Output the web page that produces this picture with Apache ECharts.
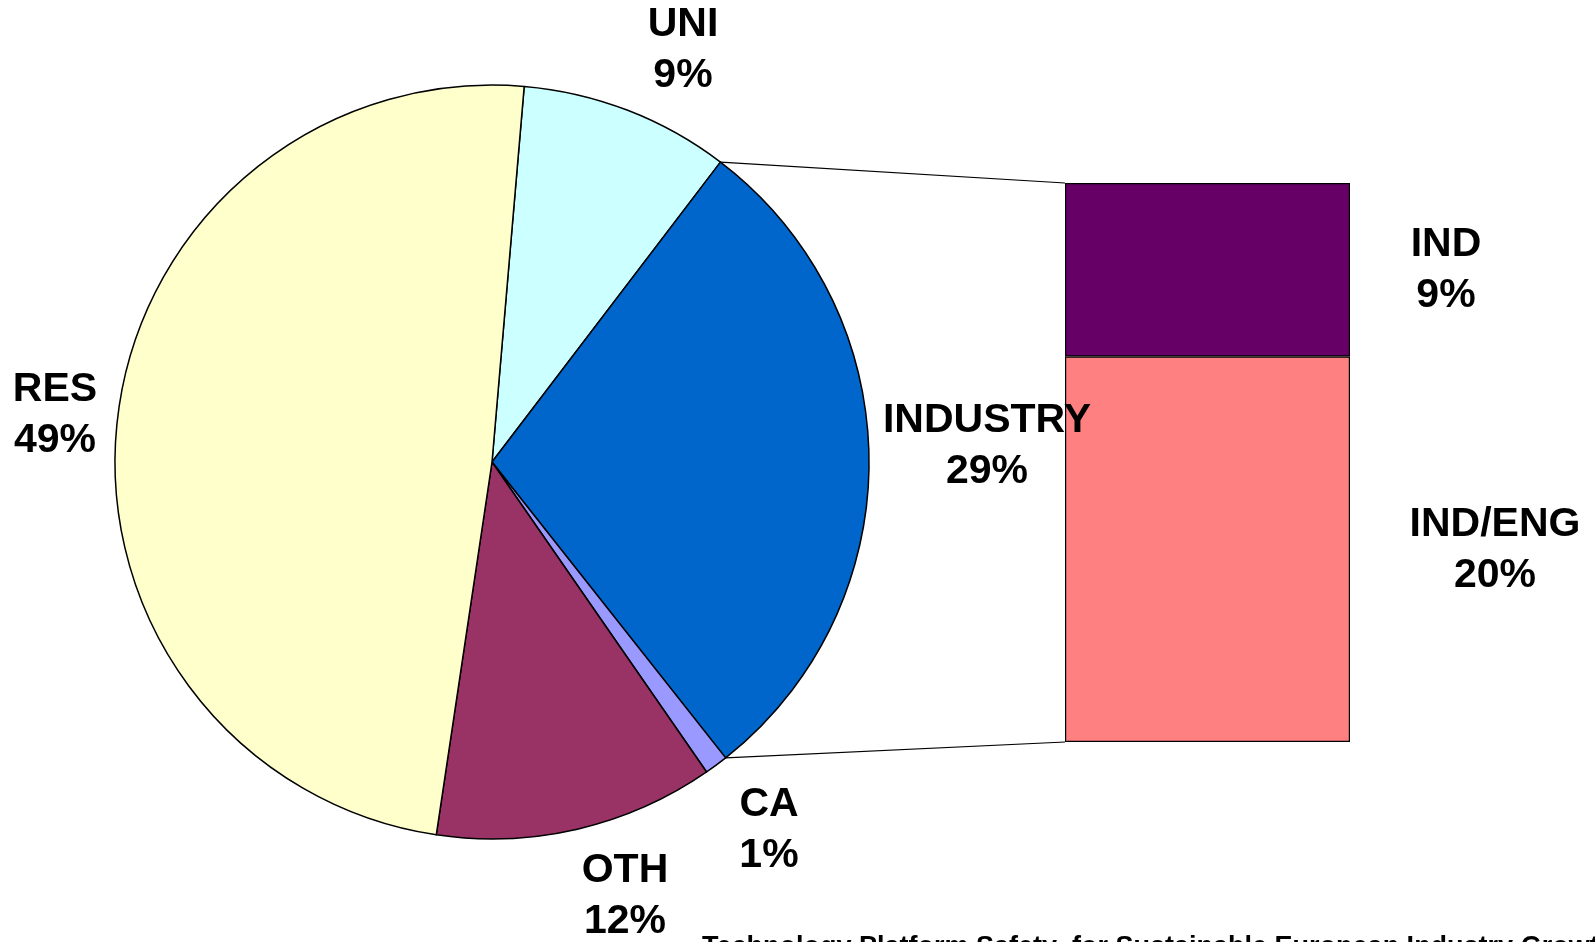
<!DOCTYPE html>
<html>
<head>
<meta charset="utf-8">
<style>
  html, body { margin: 0; padding: 0; background: #ffffff; }
  #chart { width: 1595px; height: 942px; }
</style>
<script src="https://cdn.jsdelivr.net/npm/echarts@6/dist/echarts.min.js"></script>
</head>
<body>
<div id="chart"></div>
<script>
// ---- data ----
var pieNames = ['UNI', 'INDUSTRY', 'CA', 'OTH', 'RES'];
var pieValues = [9, 29, 1, 12, 49];
var barNames = ['IND/ENG', 'IND'];
var barValues = [20, 9];
var barCategory = ['INDUSTRY'];
var footerText = 'Technology Platform Safety  for Sustainable European Industry Growth';

// ---- styles / layout ----
var pieColors = { 'UNI': '#CCFFFF', 'INDUSTRY': '#0066CC', 'CA': '#9999FF', 'OTH': '#993366', 'RES': '#FFFFCC' };
var barColors = { 'IND/ENG': '#FF8080', 'IND': '#660066' };
var FONT = '"Liberation Sans", Arial, sans-serif';
var FS = 41, LH = 51;
var pieCenter = [492, 462], pieRadius = 377, startAngle = 85.1;
var labelPos = {
  'UNI': [683, 50], 'INDUSTRY': [987, 446], 'CA': [769, 830], 'OTH': [625, 896], 'RES': [55, 415],
  'IND': [1446, 270], 'IND/ENG': [1495, 550]
};
var gridBox = { left: 1065, top: 183, width: 285, height: 559 };

var chart = echarts.init(document.getElementById('chart'), null, { renderer: 'canvas' });

function layoutFor(name) {
  var p = labelPos[name];
  return { x: p[0], y: p[1], align: 'center', verticalAlign: 'middle', hideOverlap: false, moveOverlap: false };
}

var labelStyle = {
  fontFamily: FONT, fontWeight: 'bold', fontSize: FS, lineHeight: LH, color: '#000', align: 'center'
};

var series = [{
  type: 'pie',
  center: pieCenter,
  radius: pieRadius,
  startAngle: startAngle,
  clockwise: true,
  animation: false,
  avoidLabelOverlap: false,
  data: pieNames.map(function (n, i) {
    return { name: n, value: pieValues[i], itemStyle: { color: pieColors[n] } };
  }),
  itemStyle: { borderColor: '#000', borderWidth: 1.5 },
  label: Object.assign({ show: true, position: 'outside', formatter: '{b}\n{d}%' }, labelStyle),
  labelLine: { show: false },
  labelLayout: function (params) { return layoutFor(pieNames[params.dataIndex]); },
  emphasis: { disabled: true }
}];

barNames.forEach(function (n, i) {
  series.push({
    type: 'bar',
    name: n,
    stack: 'ind',
    data: [barValues[i]],
    barWidth: '100%',
    animation: false,
    itemStyle: { color: barColors[n], borderColor: '#000', borderWidth: 1.2 },
    label: Object.assign({ show: true, position: 'inside', formatter: '{a}\n{c}%' }, labelStyle),
    labelLayout: function () { return layoutFor(n); },
    emphasis: { disabled: true }
  });
});

// connector endpoints derived from the pie slice of INDUSTRY and the bar box
function piePoint(cumValue) {
  var total = pieValues.reduce(function (a, b) { return a + b; }, 0);
  var ang = (startAngle - cumValue / total * 360) * Math.PI / 180;
  return [pieCenter[0] + pieRadius * Math.cos(ang), pieCenter[1] - pieRadius * Math.sin(ang)];
}
var idx = pieNames.indexOf('INDUSTRY');
var cumStart = 0;
for (var k = 0; k < idx; k++) cumStart += pieValues[k];
var cumEnd = cumStart + pieValues[idx];
var pA = piePoint(cumStart), pB = piePoint(cumEnd);

chart.setOption({
  backgroundColor: '#ffffff',
  animation: false,
  grid: { left: gridBox.left, top: gridBox.top, width: gridBox.width, height: gridBox.height, containLabel: false },
  xAxis: { type: 'category', data: barCategory, show: false, boundaryGap: true },
  yAxis: { type: 'value', min: 0, max: 29, show: false },
  series: series,
  graphic: [
    { type: 'line', z: 1, shape: { x1: pA[0], y1: pA[1], x2: gridBox.left, y2: gridBox.top }, style: { stroke: '#000', lineWidth: 1.2 } },
    { type: 'line', z: 1, shape: { x1: pB[0], y1: pB[1], x2: gridBox.left, y2: gridBox.top + gridBox.height }, style: { stroke: '#000', lineWidth: 1.2 } },
    { type: 'text', left: 702, top: 934, style: { text: footerText, fontFamily: FONT, fontWeight: 'bold', fontSize: 27, fill: '#000' } }
  ]
});
</script>
</body>
</html>
